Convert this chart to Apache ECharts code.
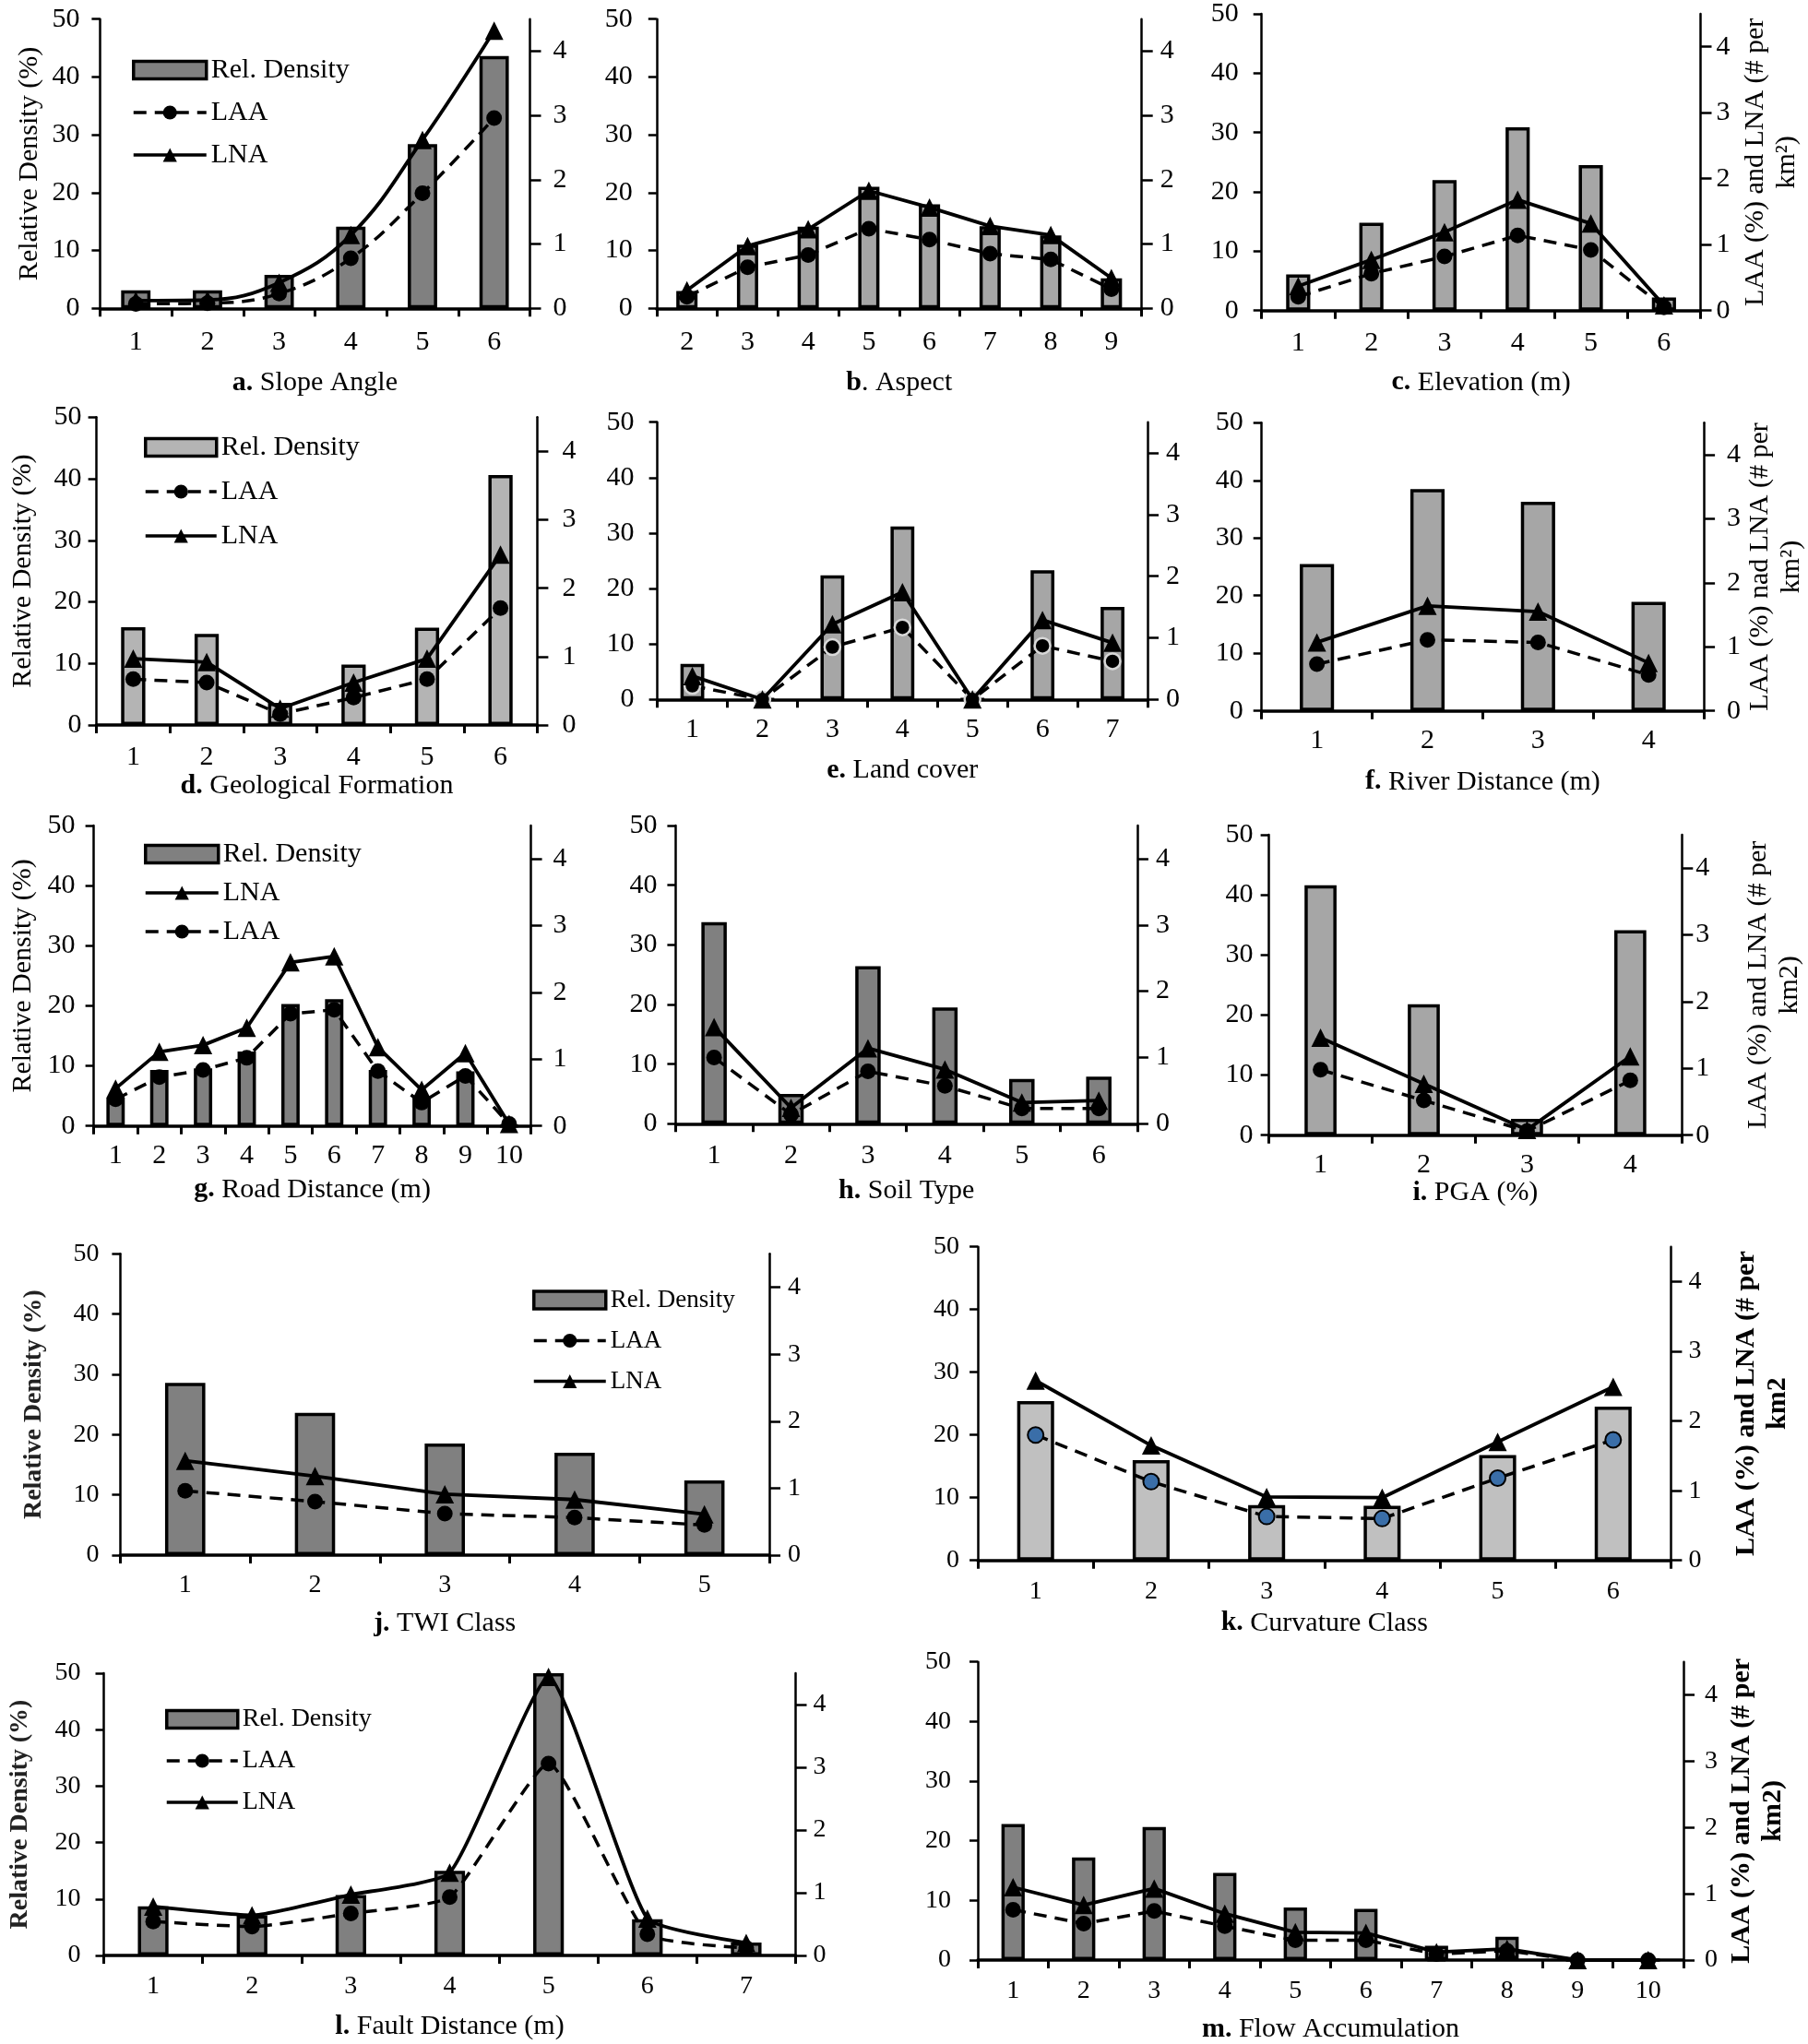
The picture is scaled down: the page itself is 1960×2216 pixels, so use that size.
<!DOCTYPE html>
<html><head><meta charset="utf-8">
<script src="https://cdn.jsdelivr.net/npm/echarts@6/dist/echarts.min.js"></script>
<style>html,body{margin:0;padding:0;background:#fff}#c{width:1960px;height:2216px}</style>
</head><body><div id="c"></div><script>
// ---------- data ----------
const catsA = ['1','2','3','4','5','6'];
const relA = [3.1, 3.1, 5.8, 14.1, 28.4, 43.6];
const laaA = [0.07, 0.08, 0.23, 0.78, 1.79, 2.96];
const lnaA = [0.12, 0.13, 0.40, 1.14, 2.62, 4.32];

const catsB = ['2','3','4','5','6','7','8','9'];
const relB = [3.0, 11.0, 14.1, 21.0, 18.0, 14.2, 12.6, 5.2];
const laaB = [0.18, 0.64, 0.83, 1.24, 1.07, 0.85, 0.76, 0.30];
const lnaB = [0.28, 0.97, 1.23, 1.83, 1.57, 1.28, 1.14, 0.47];

const catsC = ['1','2','3','4','5','6'];
const relC = [6.1, 14.8, 22.0, 30.9, 24.5, 2.2];
const laaC = [0.21, 0.56, 0.82, 1.14, 0.92, 0.05];
const lnaC = [0.37, 0.77, 1.19, 1.68, 1.32, 0.08];

const catsD = ['1','2','3','4','5','6'];
const relD = [15.9, 14.8, 3.6, 9.8, 15.8, 40.6];
const laaD = [0.67, 0.62, 0.16, 0.40, 0.67, 1.71];
const lnaD = [0.97, 0.92, 0.24, 0.62, 0.97, 2.49];

const catsE = ['1','2','3','4','5','6','7'];
const relE = [6.4, 0, 22.4, 31.2, 0, 23.3, 16.7];
const laaE = [0.22, 0, 0.85, 1.17, 0, 0.87, 0.62];
const lnaE = [0.38, 0, 1.22, 1.74, 0, 1.29, 0.92];

const catsF = ['1','2','3','4'];
const relF = [25.5, 38.5, 36.3, 18.9];
const laaF = [0.73, 1.11, 1.07, 0.56];
const lnaF = [1.07, 1.64, 1.55, 0.75];

const catsG = ['1','2','3','4','5','6','7','8','9','10'];
const relG = [4.7, 9.3, 9.6, 12.4, 20.3, 21.1, 9.3, 4.7, 9.1, 0];
const laaG = [0.40, 0.73, 0.84, 1.02, 1.68, 1.74, 0.82, 0.35, 0.75, 0.03];
const lnaG = [0.56, 1.11, 1.21, 1.47, 2.45, 2.54, 1.18, 0.54, 1.09, 0.03];

const catsH = ['1','2','3','4','5','6'];
const relH = [33.8, 5.0, 26.4, 19.5, 7.5, 7.9];
const laaH = [1.00, 0.14, 0.79, 0.57, 0.23, 0.23];
const lnaH = [1.46, 0.24, 1.14, 0.82, 0.32, 0.35];

const catsI = ['1','2','3','4'];
const relI = [41.6, 21.8, 2.7, 34.1];
const laaI = [0.98, 0.52, 0.06, 0.82];
const lnaI = [1.46, 0.77, 0.08, 1.18];

const catsJ = ['1','2','3','4','5'];
const relJ = [28.6, 23.6, 18.5, 17.0, 12.4];
const laaJ = [0.96, 0.80, 0.62, 0.56, 0.45];
const lnaJ = [1.41, 1.18, 0.91, 0.83, 0.61];

const catsK = ['1','2','3','4','5','6'];
const relK = [25.4, 16.0, 8.8, 8.7, 16.8, 24.5];
const laaK = [1.80, 1.13, 0.63, 0.60, 1.18, 1.73];
const lnaK = [2.58, 1.65, 0.91, 0.90, 1.70, 2.49];

const catsL = ['1','2','3','4','5','6','7'];
const relL = [8.7, 7.1, 10.7, 15.0, 50.0, 6.4, 2.3];
const laaL = [0.54, 0.46, 0.67, 0.93, 3.06, 0.34, 0.12];
const lnaL = [0.78, 0.64, 0.97, 1.32, 4.44, 0.59, 0.20];

const catsM = ['1','2','3','4','5','6','7','8','9','10'];
const relM = [22.8, 17.2, 22.3, 14.6, 8.8, 8.6, 2.4, 3.9, 0, 0];
const laaM = [0.76, 0.55, 0.74, 0.51, 0.30, 0.30, 0.09, 0.14, 0, 0];
const lnaM = [1.10, 0.83, 1.08, 0.70, 0.42, 0.41, 0.12, 0.17, 0, 0];

const leftTicks = [0, 10, 20, 30, 40, 50];
const rightTicks = [0, 1, 2, 3, 4];
const leftMax = 50, rightMax = 4.5;

const nameRel = 'Rel. Density', nameLAA = 'LAA', nameLNA = 'LNA';
const yLeftName = 'Relative Density (%)';

// ---------- layout / styling ----------
const FONT = '"Liberation Serif", "Times New Roman", serif';
const DARK = '#808080', MID = '#a6a6a6', LIGHT = '#b4b4b4', PALE = '#c0c0c0';

const panels = [
  {t:['a.',' Slope Angle'], c:catsA, r:relA, la:laaA, ln:lnaA, box:[108.4,574.5,20.7,334.3], fill:DARK, bw:'41%', smooth:0.4, xm:22, tg:66, lm:22, rm:25,
    lname:{gap:61}, legend:{left:143, top:61, w:79, gap:18, fs:30, order:[nameRel,nameLAA,nameLNA]}},
  {t:['b','. Aspect'], c:catsB, r:relB, la:laaB, ln:lnaB, box:[711.8,1237.7,20.7,334.3], fill:MID, bw:'35%', xm:22, tg:66, lm:26, rm:20},
  {t:['c.',' Elevation (m)'], c:catsC, r:relC, la:laaC, ln:lnaC, box:[1367.7,1843.5,15,336.7], fill:MID, bw:'33%', xm:20, tg:63, lm:25, rm:17,
    rname:{text:'LAA (%) and LNA (# per\nkm²)', gap:43}},
  {t:['d.',' Geological Formation'], c:catsD, r:relD, la:laaD, ln:lnaD, box:[104.6,582.4,452.3,786], fill:LIGHT, bw:'33%', xm:20, tg:51, lm:16, rm:27,
    lname:{gap:64}, legend:{left:156, top:470, w:77, gap:20, fs:30, order:[nameRel,nameLAA,nameLNA]}},
  {t:['e.',' Land cover'], c:catsE, r:relE, la:laaE, ln:lnaE, box:[712.6,1244,457.7,758.3], fill:MID, bw:'34%', xm:18, tg:62, lm:25, rm:20,
    laaStyle:{color:'#000', borderColor:'#d8d8d8', borderWidth:2.5}},
  {t:['f.',' River Distance (m)'], c:catsF, r:relF, la:laaF, ln:lnaF, box:[1367.7,1848,458.3,770.7], fill:MID, bw:'31%', xm:17, tg:62, lm:20, rm:25,
    rname:{text:'LAA (%) nad LNA (# per\nkm²)', gap:41}},
  {t:['g.',' Road Distance (m)'], c:catsG, r:relG, la:laaG, ln:lnaG, box:[101.6,575.6,895,1220.7], fill:DARK, bw:'42%', xm:17, tg:54, lm:20, rm:24,
    lname:{gap:61}, legend:{left:156, top:911, w:79, gap:14, fs:30, order:[nameRel,nameLNA,nameLAA]}},
  {t:['h.',' Soil Type'], c:catsH, r:relH, la:laaH, ln:lnaH, box:[732.4,1232.9,895,1218.3], fill:DARK, bw:'33%', xm:20, tg:58, lm:20, rm:20},
  {t:['i.',' PGA (%)'], c:catsI, r:relI, la:laaI, ln:lnaI, box:[1375.6,1823.3,905,1230.7], fill:MID, bw:'31%', xm:17, tg:44, lm:17, rm:15,
    rname:{text:'LAA (%) and LNA (# per\nkm2)', gap:66}},
  {t:['j.',' TWI Class'], c:catsJ, r:relJ, la:laaJ, ln:lnaJ, box:[130.4,834,1359.3,1686], fill:DARK, bw:'31%', xm:19, tg:59, lm:23, rm:20, fs:28,
    lname:{gap:80, bold:true}, legend:{left:577, top:1396, w:78, gap:19, fs:27, order:[nameRel,nameLAA,nameLNA]}},
  {t:['k.',' Curvature Class'], c:catsK, r:relK, la:laaK, ln:lnaK, box:[1060.1,1811.4,1351.7,1691.7], fill:PALE, bw:'32%', xm:20, tg:53, lm:20, rm:19, fs:28,
    laaStyle:{color:'#3a6ea8', borderColor:'#000', borderWidth:2},
    rname:{text:'LAA (%) and LNA (# per\nkm2', gap:65, bold:true}},
  {t:['l.',' Fault Distance (m)'], c:catsL, r:relL, la:laaL, ln:lnaL, box:[112.5,862.5,1814,2120], fill:DARK, bw:'31%', smooth:0.15, xm:20, tg:62, lm:25, rm:19, fs:28,
    lname:{gap:77, bold:true}, legend:{left:179, top:1850, w:77, gap:19, fs:28, order:[nameRel,nameLAA,nameLNA]}},
  {t:['m.',' Flow Accumulation'], c:catsM, r:relM, la:laaM, ln:lnaM, box:[1060,1825,1801.7,2128.3], fill:DARK, bw:'33%', xm:20, tg:60, lm:29, rm:23, fs:28,
    rname:{text:'LAA (%) and LNA (# per\nkm2)', gap:46, bold:true}}
];

const grids = [], xAxes = [], yAxes = [], series = [], legends = [];
panels.forEach((p, i) => {
  const [L, R, T, B] = p.box;
  const fs = p.fs || 30;
  const txt = {fontFamily: FONT, fontSize: fs, color: '#000'};
  grids.push({left: L, top: T, width: R - L, height: B - T, containLabel: false});
  xAxes.push({
    gridIndex: i, type: 'category', data: p.c, boundaryGap: true,
    axisLine: {show: true, lineStyle: {color: '#000', width: 3.5}},
    axisTick: {show: true, length: 9, lineStyle: {color: '#000', width: 3}},
    axisLabel: Object.assign({margin: p.xm}, txt),
    splitLine: {show: false},
    name: '{b|' + p.t[0] + '}' + p.t[1], nameLocation: 'middle', nameGap: p.tg,
    nameTextStyle: Object.assign({}, txt, {fontSize: 30, rich: {b: {fontFamily: FONT, fontSize: 30, color: '#000', fontWeight: 'bold'}}})
  });
  const left = {
    gridIndex: i, type: 'value', position: 'left', min: 0, max: leftMax, interval: 10,
    axisLine: {show: true, lineStyle: {color: '#000', width: 2.5}},
    axisTick: {show: true, length: 9, lineStyle: {color: '#000', width: 2.5}, customValues: leftTicks},
    axisLabel: Object.assign({margin: p.lm, customValues: leftTicks}, txt),
    splitLine: {show: false}
  };
  if (p.lname) {
    left.name = yLeftName; left.nameLocation = 'middle'; left.nameGap = p.lname.gap;
    left.nameTextStyle = {fontFamily: FONT, fontSize: p.lname.bold ? 28 : 30, color: p.lname.bold ? '#222' : '#000', fontWeight: p.lname.bold ? 'bold' : 'normal'};
  }
  yAxes.push(left);
  const right = {
    gridIndex: i, type: 'value', position: 'right', min: 0, max: rightMax, interval: 1,
    axisLine: {show: true, lineStyle: {color: '#000', width: 2.5}},
    axisTick: {show: true, length: 12, lineStyle: {color: '#000', width: 2.5}, customValues: rightTicks},
    axisLabel: Object.assign({margin: p.rm, customValues: rightTicks, formatter: v => (Math.abs(v - Math.round(v)) < 1e-6 ? String(Math.round(v)) : '')}, txt),
    splitLine: {show: false}
  };
  if (p.rname) {
    right.name = p.rname.text; right.nameLocation = 'middle'; right.nameGap = p.rname.gap;
    right.nameTextStyle = {fontFamily: FONT, fontSize: 30, lineHeight: 34, color: '#000', fontWeight: p.rname.bold ? 'bold' : 'normal', align: 'center'};
  }
  yAxes.push(right);

  series.push({
    type: 'bar', name: nameRel, xAxisIndex: i, yAxisIndex: 2 * i, data: p.r, barWidth: p.bw,
    itemStyle: {color: p.fill, borderColor: '#000', borderWidth: 3.5}, z: 2, silent: true
  });
  series.push({
    type: 'line', name: nameLAA, xAxisIndex: i, yAxisIndex: 2 * i + 1, data: p.la,
    smooth: p.smooth || false, symbol: 'circle', symbolSize: 17,
    lineStyle: {color: '#000', width: 3.5, type: [14, 9]},
    itemStyle: p.laaStyle || {color: '#000'}, z: 3, silent: true
  });
  series.push({
    type: 'line', name: nameLNA, xAxisIndex: i, yAxisIndex: 2 * i + 1, data: p.ln,
    smooth: p.smooth || false, symbol: 'triangle', symbolSize: 20,
    lineStyle: {color: '#000', width: 3.8},
    itemStyle: {color: '#000'}, z: 4, silent: true
  });

  if (p.legend) {
    const g = p.legend;
    legends.push({
      show: true, orient: 'vertical', left: g.left, top: g.top, itemWidth: g.w, itemHeight: 19, itemGap: g.gap - 2,
      selectedMode: false, padding: 0,
      textStyle: {fontFamily: FONT, fontSize: g.fs, color: '#000'},
      lineStyle: {width: 3.5},
      data: g.order.map(n => n === nameRel
        ? {name: n, icon: 'rect', itemStyle: {color: p.fill, borderColor: '#000', borderWidth: 3.5}}
        : {name: n})
    });
  }
});

const chart = echarts.init(document.getElementById('c'), null, {renderer: 'canvas'});
chart.setOption({
  backgroundColor: '#fff',
  animation: false,
  grid: grids, xAxis: xAxes, yAxis: yAxes, series: series, legend: legends
});
</script></body></html>
